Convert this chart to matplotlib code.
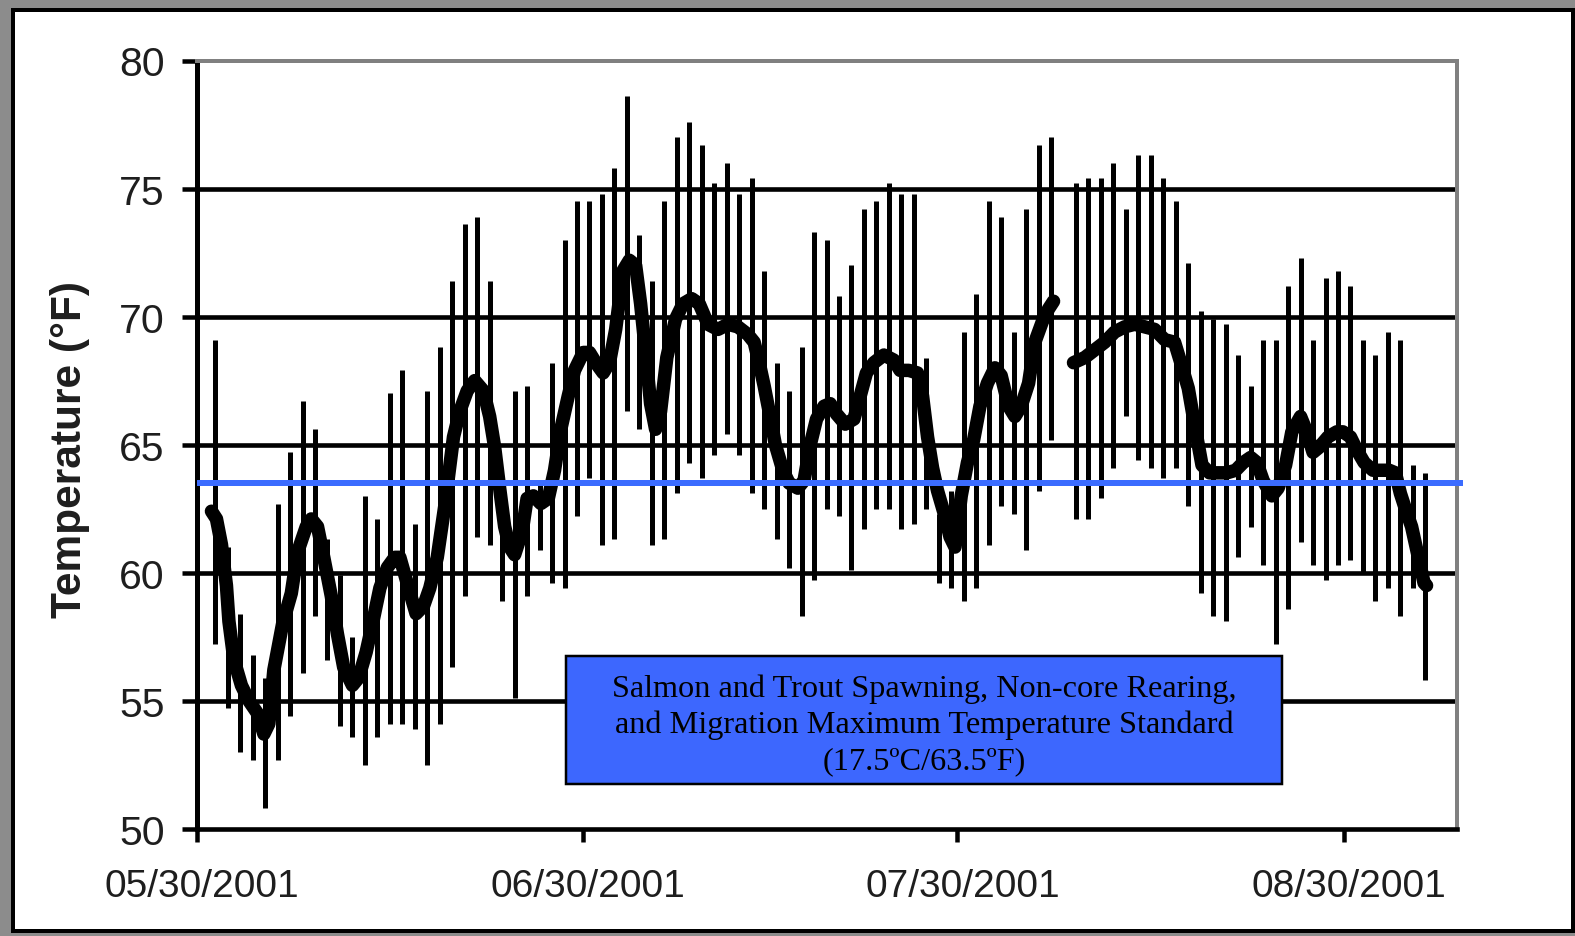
import numpy as np
import pandas as pd
import matplotlib
matplotlib.use("Agg")
import matplotlib.pyplot as plt
import matplotlib.dates as mdates
import matplotlib.transforms as mtransforms
from matplotlib.patches import Rectangle

# ---------------- data ----------------
start_date = "2001-05-30"
end_date = "2001-09-08"

# day number after start (bar drawn at mid-day)
bar_day = [1, 2, 3, 4, 5, 6, 7, 8, 9, 10, 11, 12, 13, 14, 15, 16, 17, 18, 19, 20,
           21, 22, 23, 24, 25, 26, 27, 28, 29, 30, 31, 32, 33, 34, 35, 36, 37, 38, 39, 40,
           41, 42, 43, 44, 45, 46, 47, 48, 49, 50, 51, 52, 53, 54, 55, 56, 57, 58, 59, 60,
           61, 62, 63, 64, 65, 66, 67, 68, 70, 71, 72, 73, 74, 75, 76, 77, 78, 79, 80,
           81, 82, 83, 84, 85, 86, 87, 88, 89, 90, 91, 92, 93, 94, 95, 96, 97, 98]
bar_high = [69.1, 61.0, 58.4, 56.8, 55.9, 62.7, 64.7, 66.7, 65.6, 61.3, 59.9, 57.5, 63.0, 62.1, 67.0, 67.9, 61.9, 67.1, 68.8, 71.4,
            73.6, 73.9, 71.4, 62.8, 67.1, 67.3, 63.5, 68.2, 73.0, 74.5, 74.5, 74.8, 75.8, 78.6, 73.2, 71.4, 74.5, 77.0, 77.6, 76.7,
            75.2, 76.0, 74.8, 75.4, 71.8, 68.2, 67.1, 68.8, 73.3, 73.0, 70.8, 72.0, 74.2, 74.5, 75.2, 74.8, 74.8, 68.4, 62.3, 63.2,
            69.4, 70.9, 74.5, 73.9, 69.4, 74.2, 76.7, 77.0, 75.2, 75.4, 75.4, 76.0, 74.2, 76.3, 76.3, 75.4, 74.5, 72.1, 70.2,
            69.9, 69.7, 68.5, 67.3, 69.1, 69.1, 71.2, 72.3, 69.1, 71.5, 71.8, 71.2, 69.1, 68.5, 69.4, 69.1, 64.2, 63.9]
bar_low = [57.2, 54.7, 53.0, 52.7, 50.8, 52.7, 54.4, 56.1, 58.3, 56.6, 54.0, 53.6, 52.5, 53.6, 54.1, 54.1, 53.9, 52.5, 54.1, 56.3,
           59.1, 61.4, 61.1, 58.9, 55.1, 59.1, 60.9, 59.6, 59.4, 62.2, 63.7, 61.1, 61.3, 66.3, 65.6, 61.1, 61.3, 63.1, 64.3, 63.7,
           64.6, 65.4, 64.6, 63.1, 62.5, 61.3, 60.2, 58.3, 59.7, 62.5, 62.2, 60.1, 61.7, 62.5, 62.5, 61.7, 61.9, 62.5, 59.6, 59.4,
           58.9, 59.4, 61.1, 62.6, 62.3, 60.9, 63.2, 65.2, 62.1, 62.1, 62.9, 64.1, 66.1, 64.4, 64.1, 63.7, 64.1, 62.6, 59.2,
           58.3, 58.1, 60.6, 61.8, 60.3, 57.2, 58.6, 61.2, 60.3, 59.7, 60.3, 60.5, 60.0, 58.9, 59.4, 58.3, 59.4, 55.8]

# running (daily mean) temperature trace; NaN marks the data gap
mean_day = [1.2, 1.6, 2.0, 2.4, 2.6, 3.0, 3.6, 4.2, 4.9, 5.4, 5.8, 6.2, 6.9, 7.6, 8.1, 8.8, 9.2, 9.7, 10.2, 10.8,
            11.3, 11.8, 12.5, 13.0, 13.6, 14.1, 14.7, 15.3, 15.9, 16.3, 17.0, 17.6, 18.2, 18.7, 19.3, 19.9, 20.6, 21.1,
            21.7, 22.3, 23.0, 23.5, 23.9, 24.3, 24.7, 25.1, 25.5, 26.1, 26.5, 27.0, 27.6, 28.2, 28.7, 29.2, 29.8, 30.3,
            31.0, 31.5, 32.0, 32.6, 33.1, 33.6, 34.2, 34.7, 35.2, 35.6, 36.0, 36.4, 36.8, 37.2, 37.7, 38.4, 39.0, 39.7,
            40.3, 41.0, 41.8, 42.6, 43.4, 44.2, 44.7, 45.1, 45.5, 45.9, 46.4, 47.0, 47.5, 48.2, 48.7, 49.2, 49.7, 50.3,
            50.8, 51.3, 52.0, 52.7, 53.2, 53.7, 54.3, 55.1, 55.9, 56.4, 57.1, 57.8, 58.2, 58.6, 59.0, 59.4, 60.0, 60.4,
            60.8, 61.3, 61.8, 62.3, 62.8, 63.4, 64.0, 64.5, 65.1, 65.6, 66.1, 66.7, 67.2, 67.8, 68.3, 68.7, 69.5,
            70.3, 71.2, 72.0, 72.8, 73.6, 74.4, 75.2, 76.0, 76.8, 77.6, 78.4, 78.9, 79.5, 80.0, 80.6, 81.2, 81.9,
            82.6, 83.3, 83.9, 84.5, 85.0, 85.5, 86.2, 86.7, 87.3, 87.8, 88.5, 89.0, 89.5, 90.0, 90.7, 91.4, 91.9,
            92.5, 93.0, 93.6, 94.3, 94.9, 95.6, 96.1, 96.5, 96.9, 97.4, 97.9, 98.4, 98.6]
mean_temp = [62.4, 62.1, 61.1, 59.5, 58.1, 56.6, 55.6, 55.0, 54.5, 53.7, 54.1, 56.2, 58.0, 59.2, 60.8, 61.8, 62.1, 61.8, 60.6, 59.1,
             57.6, 56.3, 55.6, 55.9, 56.9, 58.0, 59.4, 60.2, 60.6, 60.6, 59.4, 58.4, 58.7, 59.4, 60.6, 62.6, 65.3, 66.3,
             67.1, 67.5, 67.1, 66.1, 64.9, 63.3, 61.8, 61.0, 60.7, 61.6, 62.9, 63.0, 62.7, 62.9, 64.0, 65.6, 66.9, 67.9,
             68.6, 68.6, 68.2, 67.8, 68.2, 69.5, 71.8, 72.2, 72.0, 70.5, 68.6, 66.6, 65.6, 66.3, 68.4, 69.9, 70.5, 70.7,
             70.5, 69.7, 69.5, 69.7, 69.6, 69.3, 69.0, 68.2, 67.3, 66.3, 65.0, 64.0, 63.5, 63.3, 63.6, 65.0, 66.0, 66.5,
             66.6, 66.2, 65.8, 66.0, 66.9, 67.8, 68.2, 68.5, 68.3, 67.9, 67.9, 67.8, 66.9, 65.3, 64.1, 63.2, 62.2, 61.4,
             61.0, 63.0, 64.3, 65.2, 66.5, 67.4, 68.0, 67.7, 66.5, 66.1, 66.5, 67.4, 69.0, 69.8, 70.3, 70.6, np.nan,
             68.2, 68.4, 68.7, 69.0, 69.4, 69.6, 69.7, 69.6, 69.5, 69.1, 69.0, 68.2, 67.2, 65.8, 64.2, 63.9, 63.9,
             63.9, 64.0, 64.3, 64.5, 64.3, 63.6, 63.0, 63.3, 64.2, 65.5, 66.1, 65.5, 64.7, 64.9, 65.3, 65.5, 65.5,
             65.3, 64.8, 64.3, 64.0, 64.0, 64.0, 63.9, 63.1, 62.5, 61.8, 60.7, 59.6, 59.5]

standard_temp = 63.5
standard_text = ("Salmon and Trout Spawning, Non-core Rearing,\n"
                 "and Migration Maximum Temperature Standard\n"
                 "(17.5\u00baC/63.5\u00baF)")
x_tick_dates = ["2001-05-30", "2001-06-30", "2001-07-30", "2001-08-30"]
y_ticks = [50, 55, 60, 65, 70, 75, 80]
grid_levels = [55, 60, 65, 70, 75]
y_label = "Temperature (\u00b0F)"

# ---------------- figure ----------------
W, H = 1575, 937
fig = plt.figure(figsize=(W / 100, H / 100), dpi=100)
fig.patch.set_facecolor("#8c8c8c")
px = 72 / 100  # points per pixel

def fx(x):
    return x / W

def fy(y):
    return 1 - y / H

# outer frame
frame = Rectangle((fx(13), fy(932)), fx(1573) - fx(13), fy(11) - fy(932),
                  transform=fig.transFigure, facecolor="white", edgecolor="black",
                  linewidth=4 * px, zorder=-10)
fig.patches.append(frame)

ax_l, ax_r, ax_t, ax_b = 196.5, 1456.5, 61.5, 829.8
ax = fig.add_axes([fx(ax_l), fy(ax_b), fx(ax_r) - fx(ax_l), fy(ax_t) - fy(ax_b)])
ax.set_facecolor("white")

start = pd.Timestamp(start_date)
bar_x = (start + pd.to_timedelta(np.array(bar_day) + 0.5, unit="D")).values
mean_x = (start + pd.to_timedelta(np.array(mean_day), unit="D")).values

for lvl in grid_levels:
    ax.axhline(lvl, color="black", linewidth=4.6 * px, zorder=1)

ax.vlines(bar_x, bar_low, bar_high, color="black", linewidth=5 * px, zorder=3)
ax.plot(mean_x, mean_temp, color="black", linewidth=13.5 * px, solid_capstyle="round",
        solid_joinstyle="round", zorder=4)

ax.set_xlim(pd.Timestamp(start_date), pd.Timestamp(end_date))
ax.set_ylim(50, 80)

# standard line (extends slightly past the plot frame)
ax.plot([pd.Timestamp(start_date), pd.Timestamp(end_date) + pd.Timedelta(hours=12)],
        [standard_temp, standard_temp], color="#3b6cff", linewidth=6 * px,
        zorder=5, clip_on=False, solid_capstyle="butt")

ax.set_yticks(y_ticks)
ax.set_xticks(pd.to_datetime(x_tick_dates))
ax.xaxis.set_major_formatter(mdates.DateFormatter("%m/%d/%Y"))

for s in ["left", "bottom"]:
    ax.spines[s].set_color("black")
ax.spines["left"].set_linewidth(5 * px)
ax.spines["bottom"].set_linewidth(4.6 * px)
for s in ["top", "right"]:
    ax.spines[s].set_color("#808080")
    ax.spines[s].set_linewidth(4 * px)

ax.tick_params(axis="y", direction="out", length=11, width=4.5 * px, pad=12,
               labelsize=29.5, labelcolor="#1e1e1e", color="black")
ax.tick_params(axis="x", direction="out", length=9, width=4.5 * px, pad=19,
               labelsize=28, labelcolor="#1e1e1e", color="black")
for lab in ax.get_xticklabels() + ax.get_yticklabels():
    lab.set_fontfamily("Liberation Sans")
shift = mtransforms.ScaledTranslation(5 / 100, 0, fig.dpi_scale_trans)
for lab in ax.get_xticklabels():
    lab.set_transform(lab.get_transform() + shift)

fig.text(fx(70.5), fy(449), y_label, rotation=90, ha="center", va="center",
         fontsize=30.5, fontweight="bold", fontfamily="Liberation Sans", color="#1e1e1e")

# standard text box
box = Rectangle((fx(565.5), fy(784.5)), fx(1281.5) - fx(565.5), fy(657) - fy(784.5),
                transform=fig.transFigure, facecolor="#3d67fe", edgecolor="black",
                linewidth=2.5 * px, zorder=10)
fig.patches.append(box)
fig.text(fx(924), fy(725), standard_text, ha="center", va="center", fontsize=23.2,
         fontfamily="Liberation Serif", color="black", linespacing=1.31, zorder=11)

fig.savefig("out.png", dpi=100, facecolor=fig.get_facecolor())
